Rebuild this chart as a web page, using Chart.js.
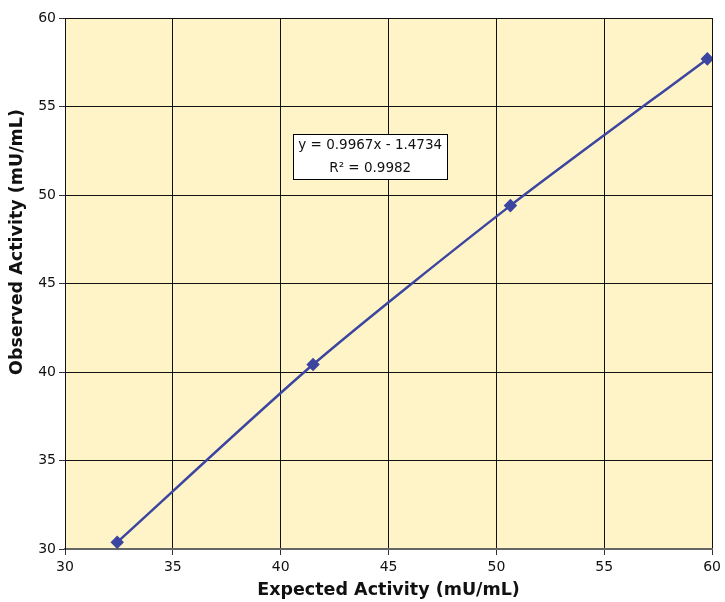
<!DOCTYPE html>
<html><head><meta charset="utf-8">
<script src="https://cdn.jsdelivr.net/npm/chart.js@4"></script>
<style>html,body{margin:0;padding:0;background:#fff}#wrap{width:725px;height:602px}</style>
</head><body><div id="wrap"><canvas id="c" width="725" height="602"></canvas></div>
<script>
const expected = [32.42, 41.50, 50.65, 59.78];
const observed = [30.38, 40.42, 49.40, 57.69];
const xTicks = [30, 35, 40, 45, 50, 55, 60];
const yTicks = [30, 35, 40, 45, 50, 55, 60];
const equationLines = ["y = 0.9967x - 1.4734", "R² = 0.9982"];
const xTitle = "Expected Activity (mU/mL)";
const yTitle = "Observed Activity (mU/mL)";

const FONT = "'DejaVu Sans', sans-serif";

const bgPlugin = {
  id: 'bg',
  beforeDraw(chart) {
    const {ctx, chartArea: a} = chart;
    ctx.save();
    ctx.fillStyle = '#FFF4C8';
    ctx.fillRect(a.left, a.top, a.right - a.left, a.bottom - a.top);
    ctx.restore();
  }
};
const boxPlugin = {
  id: 'eqbox',
  afterDatasetsDraw(chart) {
    const {ctx, scales: {x, y}} = chart;
    const cx = x.getPixelForValue(44.15), cy = y.getPixelForValue(52.2);
    const w = 154, h = 45;
    ctx.save();
    ctx.fillStyle = '#fff';
    ctx.strokeStyle = '#000';
    ctx.lineWidth = 1;
    const bx = Math.round(cx - w/2)+0.5, by = Math.round(cy - h/2)+0.5;
    ctx.fillRect(bx, by, w, h);
    ctx.strokeRect(bx, by, w, h);
    ctx.fillStyle = '#111';
    ctx.font = '13.5px ' + FONT;
    ctx.textAlign = 'center';
    ctx.textBaseline = 'middle';
    ctx.fillText(equationLines[0], cx, cy - 11);
    ctx.fillText(equationLines[1], cx, cy + 12);
    // y axis title
    ctx.save();
    ctx.translate(17, 242);
    ctx.rotate(-Math.PI/2);
    ctx.font = 'bold 17.5px ' + FONT;
    ctx.fillText(yTitle, 0, 0);
    ctx.restore();
    ctx.restore();
  }
};

new Chart(document.getElementById('c'), {
  type: 'line',
  data: {
    datasets: [{
      data: expected.map((v, i) => ({x: v, y: observed[i]})),
      borderColor: '#3C46A0',
      backgroundColor: '#3C46A0',
      borderWidth: 2.5,
      tension: 0.25,
      pointStyle: 'rectRot',
      pointRadius: 5,
      pointHoverRadius: 5,
      fill: false
    }]
  },
  options: {
    responsive: false,
    animation: false,
    layout: {padding: {top: 18, right: 2, left: 0, bottom: 0}},
    plugins: {legend: {display: false}, tooltip: {enabled: false}},
    scales: {
      x: {
        type: 'linear', min: 30, max: 60,
        afterBuildTicks(s) { s.ticks = xTicks.map(v => ({value: v})); },
        afterFit(s) { s.height = 53; },
        grid: {color: '#111', lineWidth: 1, tickLength: 6, tickColor: '#333'},
        border: {color: '#666', width: 2},
        ticks: {color: '#111', font: {family: FONT, size: 14}, padding: 4, maxRotation: 0},
        title: {display: true, text: xTitle, color: '#111', font: {family: FONT, size: 17.5, weight: 'bold'}, padding: {top: 2, bottom: 1}}
      },
      y: {
        type: 'linear', min: 30, max: 60,
        afterBuildTicks(s) { s.ticks = yTicks.map(v => ({value: v})); },
        afterFit(s) { s.width = 65; },
        grid: {color: '#111', lineWidth: 1, tickLength: 6, tickColor: '#333'},
        border: {color: '#111', width: 1},
        ticks: {color: '#111', font: {family: FONT, size: 14}, padding: 3},
        title: {display: false}
      }
    }
  },
  plugins: [bgPlugin, boxPlugin]
});
</script></body></html>
